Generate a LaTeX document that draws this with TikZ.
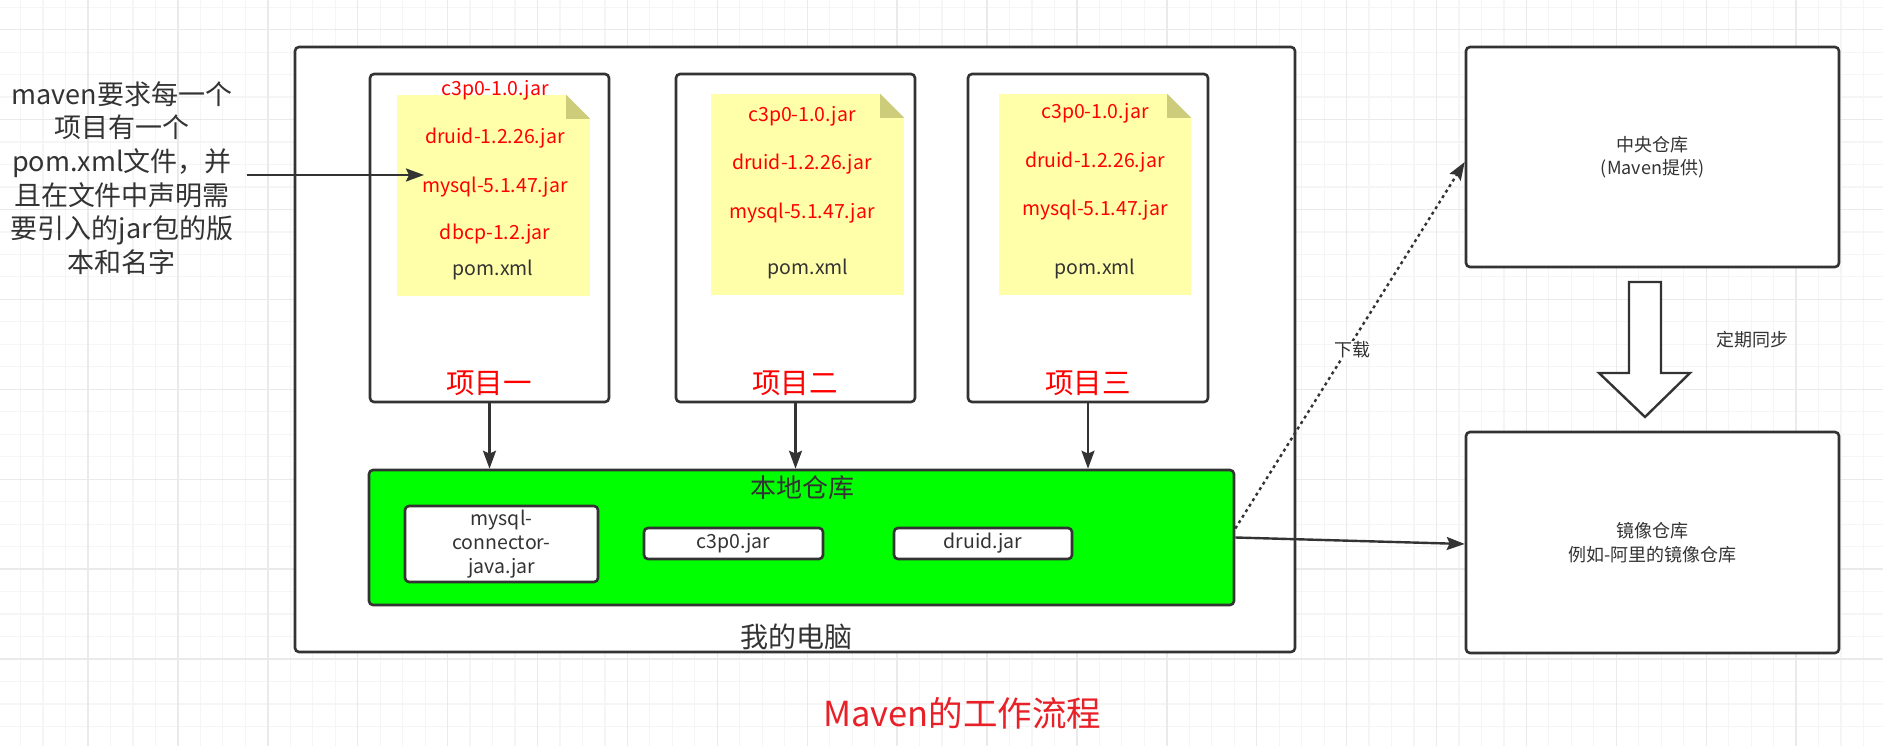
\documentclass[tikz,border=0pt]{standalone}
\usepackage{fontspec}
\setmainfont{Noto Sans CJK SC}
\usetikzlibrary{arrows.meta}

\definecolor{linec}{RGB}{51,51,51}
\definecolor{notec}{RGB}{255,255,170}
\definecolor{foldc}{RGB}{204,204,122}
\definecolor{titlec}{RGB}{232,32,40}
\definecolor{gridminor}{RGB}{245,245,245}
\definecolor{gridmajor}{RGB}{234,234,234}

\tikzset{
  box/.style={draw=linec, line width=2.6pt, rounded corners=4pt, fill=white, inner sep=0pt},
  pomnote/.style={fill=notec, minimum width=193pt, minimum height=201pt, inner sep=0pt},
  jar/.style={text=red, font=\fontsize{19.5}{22}\selectfont},
  plain/.style={text=linec, font=\fontsize{18}{23.5}\selectfont, align=center},
  jarbox/.style={text=linec, font=\fontsize{19.5}{24}\selectfont, align=center},
  projlabel/.style={text=red, font=\fontsize{28.5}{30}\selectfont},
  conn/.style={draw=linec, line width=2.4pt, -{Stealth[length=18pt, width=13pt, inset=3pt]}},
}

\begin{document}
\begin{tikzpicture}[x=1pt, y=-1pt]
        % Canvas and grid
        \useasboundingbox (0,0) rectangle (1883,746);
        \fill[white] (0,0) rectangle (1883,746);
        \begin{scope}
          \clip (0,0) rectangle (1883,746);
          \foreach \i in {1,...,84} \draw[gridminor, line width=1.2pt] ({-1.9+\i*22.475},0) -- ++(0,746);
          \foreach \i in {0,...,33} \draw[gridminor, line width=1.2pt] (0,{7.2+\i*22.475}) -- ++(1883,0);
          \foreach \i in {1,...,20} \draw[gridmajor, line width=1.4pt] ({-1.9+\i*89.9},0) -- ++(0,746);
          \foreach \i in {0,...,7} \draw[gridmajor, line width=1.4pt] (0,{29.7+\i*89.9}) -- ++(1883,0);
        \end{scope}

        % My computer
        \node[box, minimum width=1000pt, minimum height=605pt] (pc) at (795,349.5) {};
        \node[text=linec, font=\fontsize{28}{30}\selectfont] (pclabel) at (796,637) {我的电脑};

        % Projects
        \node[box, minimum width=239pt, minimum height=328pt] (p1) at (489.5,238) {};
        \node[box, minimum width=239pt, minimum height=328pt] (p2) at (795.5,238) {};
        \node[box, minimum width=240pt, minimum height=328pt] (p3) at (1088,238) {};
        \node[projlabel] (p1label) at (489,383) {项目一};
        \node[projlabel] (p2label) at (795,383) {项目二};
        \node[projlabel] (p3label) at (1088,383) {项目三};

        % pom.xml notes
        \node[pomnote] (n1) at (493.5,195.5) {};
        \node[pomnote] (n2) at (807.5,194.5) {};
        \node[pomnote, minimum width=192pt] (n3) at (1095,194.5) {};
        \foreach \n in {n1,n2,n3} {
          \fill[white] ([xshift=-24pt]\n.north east) -- (\n.north east) -- ([yshift=-24pt]\n.north east) -- cycle;
          \fill[foldc] ([xshift=-24pt]\n.north east) -- ([yshift=-24pt]\n.north east) -- ([xshift=-24pt,yshift=-24pt]\n.north east) -- cycle;
        }

        \node[jar] (a1) at (495,90) {c3p0-1.0.jar};
        \node[jar] (b1) at (495,138) {druid-1.2.26.jar};
        \node[jar] (c1) at (495,187) {mysql-5.1.47.jar};
        \node[jar] (d1) at (495,234) {dbcp-1.2.jar};
        \node[jarbox] (pom1) at (493,270) {pom.xml};

        \node[jar] (a2) at (802,116) {c3p0-1.0.jar};
        \node[jar] (b2) at (802,164) {druid-1.2.26.jar};
        \node[jar] (c2) at (802,213) {mysql-5.1.47.jar};
        \node[jarbox] (pom2) at (808,269) {pom.xml};

        \node[jar] (a3) at (1095,113) {c3p0-1.0.jar};
        \node[jar] (b3) at (1095,162) {druid-1.2.26.jar};
        \node[jar] (c3) at (1095,210) {mysql-5.1.47.jar};
        \node[jarbox] (pom3) at (1095,269) {pom.xml};

        % Local repository
        \node[box, fill=green, minimum width=865pt, minimum height=135pt] (local) at (801.5,537.5) {};
        \node[text=linec, font=\fontsize{26}{28}\selectfont] (locallabel) at (802,488) {本地仓库};
        \node[box, jarbox, minimum width=193pt, minimum height=76pt] (mysqljar) at (501.5,544) {mysql-\\connector-\\java.jar};
        \node[box, jarbox, minimum width=179pt, minimum height=31pt] (c3p0jar) at (733.5,543.5) {c3p0.jar};
        \node[box, jarbox, minimum width=178pt, minimum height=31pt] (druidjar) at (983,543.5) {druid.jar};

        % Remote repositories
        \node[box, plain, minimum width=373pt, minimum height=220pt] (central) at (1652.5,157) {中央仓库\\(Maven提供)};
        \node[box, plain, minimum width=373pt, minimum height=221pt] (mirror) at (1652.5,542.5) {镜像仓库\\例如-阿里的镜像仓库};
        \filldraw[fill=white, draw=linec, line width=2.4pt]
          (1629,282) -- (1661,282) -- (1661,373) -- (1690,373) -- (1645,417) -- (1599,373) -- (1629,373) -- cycle;
        \node[plain] (sync) at (1752,340) {定期同步};

        % Requirement note
        \node[text=linec, align=center, font=\fontsize{27}{33.6}\selectfont] (req) at (122,178)
          {maven要求每一个\\项目有一个\\pom.xml文件，并\\且在文件中声明需\\要引入的jar包的版\\本和名字};
        \coordinate (pomtip) at (424,175);
        \draw[conn] (req.east |- pomtip) ++(10,0) -- (pomtip);

        % Arrows
        \draw[conn] (p1.south) -- (p1.south |- local.north);
        \draw[conn] (p2.south) -- (p2.south |- local.north);
        \draw[conn] (p3.south) -- (p3.south |- local.north);
        \draw[conn, dash pattern=on 3pt off 3.5pt] ([yshift=9pt]local.east) -- ([yshift=-5pt]central.west);
        \node[plain, fill=white, inner sep=1pt] (down) at (1352,350) {下载};
        \draw[conn] (local.east) -- ([yshift=-1.5pt]mirror.west);

        % Title
        \node[text=titlec, font=\fontsize{34.5}{36}\selectfont] (title) at (962,713) {Maven的工作流程};
\end{tikzpicture}
\end{document}
